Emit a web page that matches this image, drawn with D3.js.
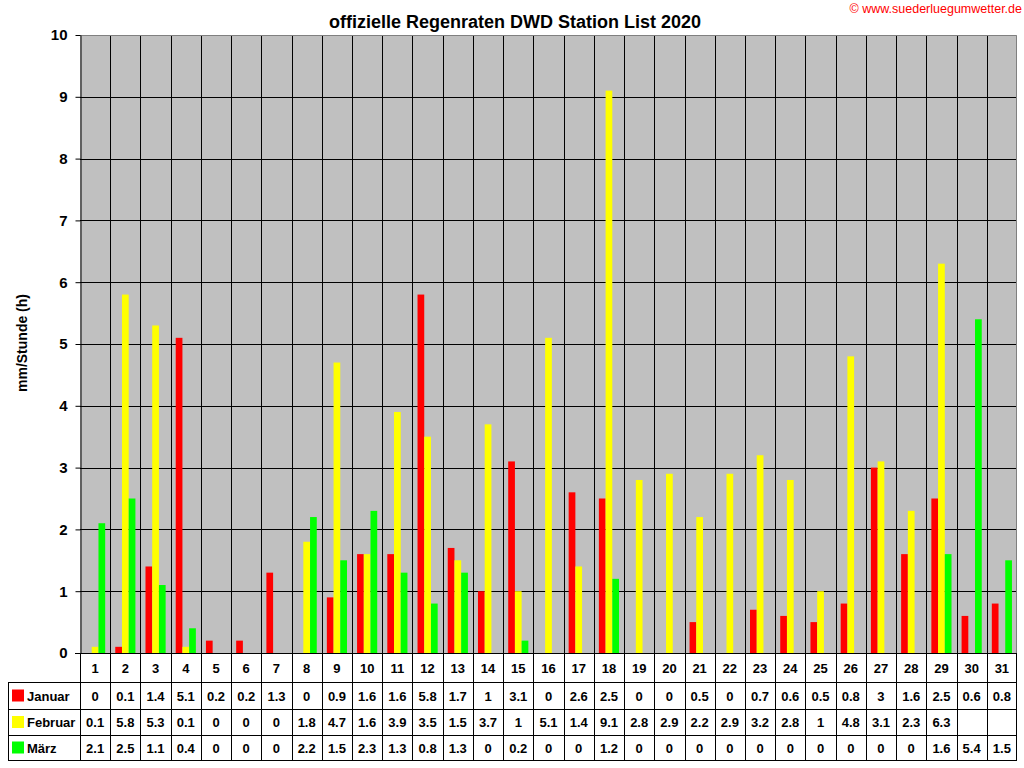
<!DOCTYPE html>
<html>
<head>
<meta charset="utf-8">
<script src="https://d3js.org/d3.v7.min.js"></script>
<style>
  body { margin: 0; background: #fff; }
  svg { display: block; font-family: "Liberation Sans", Arial, sans-serif; }
</style>
</head>
<body>
<svg width="1024" height="768"></svg>
<script>
var days = ["1","2","3","4","5","6","7","8","9","10","11","12","13","14","15","16",
            "17","18","19","20","21","22","23","24","25","26","27","28","29","30","31"];
var januar  = [0, 0.1, 1.4, 5.1, 0.2, 0.2, 1.3, 0, 0.9, 1.6, 1.6, 5.8, 1.7, 1, 3.1, 0,
               2.6, 2.5, 0, 0, 0.5, 0, 0.7, 0.6, 0.5, 0.8, 3, 1.6, 2.5, 0.6, 0.8];
var februar = [0.1, 5.8, 5.3, 0.1, 0, 0, 0, 1.8, 4.7, 1.6, 3.9, 3.5, 1.5, 3.7, 1, 5.1,
               1.4, 9.1, 2.8, 2.9, 2.2, 2.9, 3.2, 2.8, 1, 4.8, 3.1, 2.3, 6.3, null, null];
var maerz   = [2.1, 2.5, 1.1, 0.4, 0, 0, 0, 2.2, 1.5, 2.3, 1.3, 0.8, 1.3, 0, 0.2, 0,
               0, 1.2, 0, 0, 0, 0, 0, 0, 0, 0, 0, 0, 1.6, 5.4, 1.5];
var seriesNames = ["Januar", "Februar", "März"];
var seriesColors = ["#ff0000", "#ffff00", "#00ff00"];
var yTicks = [0, 1, 2, 3, 4, 5, 6, 7, 8, 9, 10];

var series = [januar, februar, maerz];

var plotLeft = 80, plotRight = 1017, plotTop = 35, zero = 653;
var rowY = [653, 682, 709, 735, 760]; // table row borders
var tableLeft = 8;

var svg = d3.select("svg");

var x = d3.scaleBand().domain(days).range([plotLeft, plotRight]);
var xs = d3.scaleBand().domain(seriesNames).range([0, x.bandwidth()]).paddingOuter(0.75);
var y = d3.scaleLinear().domain([0, 10]).range([zero, plotTop]);

// plot background
svg.append("rect")
  .attr("x", plotLeft).attr("y", plotTop)
  .attr("width", plotRight - plotLeft).attr("height", zero - plotTop)
  .attr("fill", "#c0c0c0");

// horizontal gridlines
svg.append("g").selectAll("line")
  .data(yTicks.slice(1, -1))
  .enter().append("line")
  .attr("x1", plotLeft).attr("x2", plotRight)
  .attr("y1", function(d) { return Math.round(y(d)) + 0.5; })
  .attr("y2", function(d) { return Math.round(y(d)) + 0.5; })
  .attr("stroke", "#000");

// bars
var groups = svg.append("g").selectAll("g")
  .data(series)
  .enter().append("g")
  .attr("fill", function(d, i) { return seriesColors[i]; });

groups.each(function(vals, si) {
  d3.select(this).selectAll("rect")
    .data(vals.map(function(v, i) { return {day: days[i], v: v}; })
              .filter(function(d) { return d.v !== null && d.v > 0; }))
    .enter().append("rect")
    .attr("x", function(d) { return x(d.day) + xs(seriesNames[si]); })
    .attr("width", xs.bandwidth())
    .attr("y", function(d) { return y(d.v); })
    .attr("height", function(d) { return zero - y(d.v); });
});

// vertical lines: column borders through plot and table
svg.append("g").selectAll("line")
  .data(days.slice(1))
  .enter().append("line")
  .attr("x1", function(d) { return Math.round(x(d)) + 0.5; })
  .attr("x2", function(d) { return Math.round(x(d)) + 0.5; })
  .attr("y1", plotTop).attr("y2", rowY[4])
  .attr("stroke", "#000");

// plot border top/right
svg.append("path")
  .attr("d", "M" + plotLeft + "," + (plotTop + 0.5) + "H" + (plotRight - 0.5) + "V" + zero)
  .attr("fill", "none").attr("stroke", "#808080");

// y axis
var yAxis = svg.append("g")
  .attr("transform", "translate(" + (plotLeft + 0.5) + ",0)")
  .call(d3.axisLeft(y).tickValues(yTicks).tickSize(5).tickPadding(8).tickSizeOuter(0));
yAxis.select(".domain").attr("stroke", "#000");
yAxis.selectAll(".tick line").attr("stroke", "#000");
yAxis.selectAll("text")
  .attr("font-size", 15).attr("font-weight", "bold")
  .attr("font-family", "'Liberation Sans', Arial, sans-serif")
  .attr("fill", "#000");

// left axis line continues down through table
svg.append("line")
  .attr("x1", plotLeft + 0.5).attr("x2", plotLeft + 0.5)
  .attr("y1", zero).attr("y2", rowY[4])
  .attr("stroke", "#000");

// right table border
svg.append("line")
  .attr("x1", plotRight - 0.5).attr("x2", plotRight - 0.5)
  .attr("y1", zero).attr("y2", rowY[4])
  .attr("stroke", "#000");

// table horizontal lines
svg.append("line")
  .attr("x1", plotLeft - 5).attr("x2", plotRight)
  .attr("y1", zero + 0.5).attr("y2", zero + 0.5)
  .attr("stroke", "#000");
svg.append("g").selectAll("line")
  .data(rowY.slice(1))
  .enter().append("line")
  .attr("x1", tableLeft).attr("x2", plotRight)
  .attr("y1", function(d) { return d + 0.5; })
  .attr("y2", function(d) { return d + 0.5; })
  .attr("stroke", "#000");
svg.append("line")
  .attr("x1", tableLeft + 0.5).attr("x2", tableLeft + 0.5)
  .attr("y1", rowY[1]).attr("y2", rowY[4])
  .attr("stroke", "#000");

// day labels
svg.append("g").selectAll("text")
  .data(days)
  .enter().append("text")
  .attr("x", function(d) { return x(d) + x.bandwidth() / 2; })
  .attr("y", (rowY[0] + rowY[1]) / 2 + 5)
  .attr("text-anchor", "middle")
  .attr("font-size", 13).attr("font-weight", "bold")
  .text(function(d) { return d; });

// table rows
series.forEach(function(vals, si) {
  var cy = (rowY[si + 1] + rowY[si + 2]) / 2;
  var row = svg.append("g");
  row.append("rect")
    .attr("x", 12).attr("y", cy - 6)
    .attr("width", 12).attr("height", 12)
    .attr("fill", seriesColors[si]);
  row.append("text")
    .attr("x", 27).attr("y", cy + 5)
    .attr("font-size", 13).attr("font-weight", "bold")
    .text(seriesNames[si]);
  row.selectAll("text.v")
    .data(vals.map(function(v, i) { return {day: days[i], v: v}; })
              .filter(function(d) { return d.v !== null; }))
    .enter().append("text")
    .attr("class", "v")
    .attr("x", function(d) { return x(d.day) + x.bandwidth() / 2; })
    .attr("y", cy + 5)
    .attr("text-anchor", "middle")
    .attr("font-size", 13).attr("font-weight", "bold")
    .text(function(d) { return d.v; });
});

// title
svg.append("text")
  .attr("x", 515).attr("y", 28)
  .attr("text-anchor", "middle")
  .attr("font-size", 18).attr("font-weight", "bold")
  .text("offizielle Regenraten DWD Station List 2020");

// y axis label
svg.append("text")
  .attr("transform", "translate(27,343) rotate(-90)")
  .attr("text-anchor", "middle")
  .attr("font-size", 14).attr("font-weight", "bold")
  .text("mm/Stunde (h)");

// copyright
svg.append("text")
  .attr("x", 1022).attr("y", 13)
  .attr("text-anchor", "end")
  .attr("font-size", 12.5)
  .attr("fill", "#ff0000")
  .text("© www.suederluegumwetter.de");
</script>
</body>
</html>
